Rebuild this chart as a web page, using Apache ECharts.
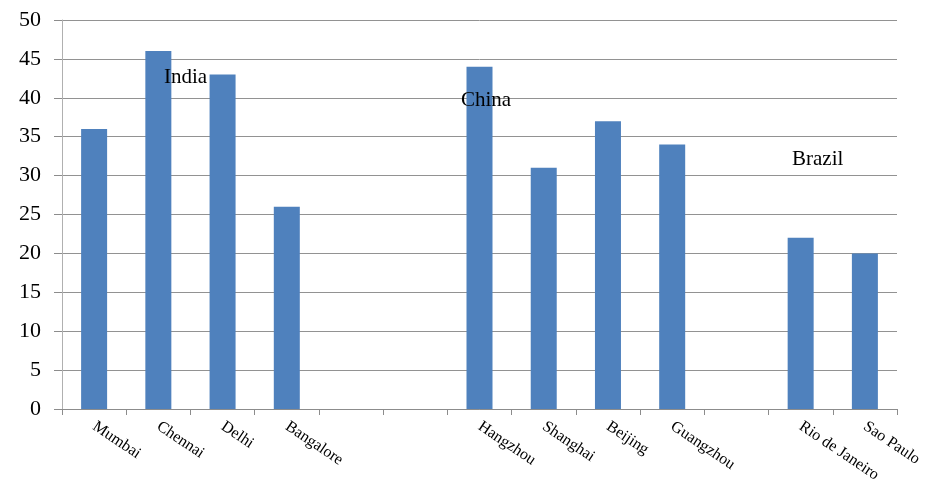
<!DOCTYPE html>
<html>
<head>
<meta charset="utf-8">
<script src="https://cdn.jsdelivr.net/npm/echarts@6/dist/echarts.min.js"></script>
<style>
  html, body { margin: 0; padding: 0; background: #fff; }
  #chart { width: 927px; height: 480px; }
</style>
</head>
<body>
<div id="chart"></div>
<script>
// cities, with blank slots between the country groups
const cities = ['Mumbai', 'Chennai', 'Delhi', 'Bangalore', '', ' ', 'Hangzhou', 'Shanghai', 'Beijing', 'Guangzhou', '  ', 'Rio de Janeiro', 'Sao Paulo'];
const values = [36, 46, 43, 26, null, null, 44, 31, 37, 34, null, 22, 20];
const yTicks = { min: 0, max: 50, interval: 5 };
const countries = ['India', 'China', 'Brazil'];

const chart = echarts.init(document.getElementById('chart'));
const serif = 'Liberation Serif';
const labelFont = '21px "Liberation Serif"';

const option = {
  backgroundColor: '#fff',
  animation: false,
  grid: { left: 62, right: 30, top: 20, bottom: 71, containLabel: false, outerBoundsMode: 'none' },
  xAxis: {
    type: 'category',
    data: cities,
    axisLine: { lineStyle: { color: '#8c8c8c', width: 1 } },
    axisTick: { show: true, length: 6, lineStyle: { color: '#8c8c8c' } },
    axisLabel: {
      rotate: -34,
      interval: 0,
      margin: 16,
      color: '#000',
      fontFamily: serif,
      fontSize: 16
    }
  },
  yAxis: {
    type: 'value',
    min: yTicks.min,
    max: yTicks.max,
    interval: yTicks.interval,
    axisLine: { show: true, lineStyle: { color: '#b0b0b0' } },
    axisTick: { show: true, length: 8, lineStyle: { color: '#8c8c8c' } },
    splitLine: { lineStyle: { color: '#929292', width: 1 } },
    axisLabel: {
      color: '#000',
      fontFamily: serif,
      fontSize: 22,
      margin: 21
    }
  },
  series: [{
    type: 'bar',
    data: values,
    barWidth: 26,
    itemStyle: { color: '#4f81bd' }
  }],
  graphic: [
    { type: 'text', z: 100, left: 164, top: 67, style: { text: countries[0], font: labelFont, fill: '#000' } },
    { type: 'text', z: 100, left: 461, top: 90, style: { text: countries[1], font: labelFont, fill: '#000' } },
    { type: 'text', z: 100, left: 792, top: 149, style: { text: countries[2], font: labelFont, fill: '#000' } }
  ]
};

chart.setOption(option);
</script>
</body>
</html>
